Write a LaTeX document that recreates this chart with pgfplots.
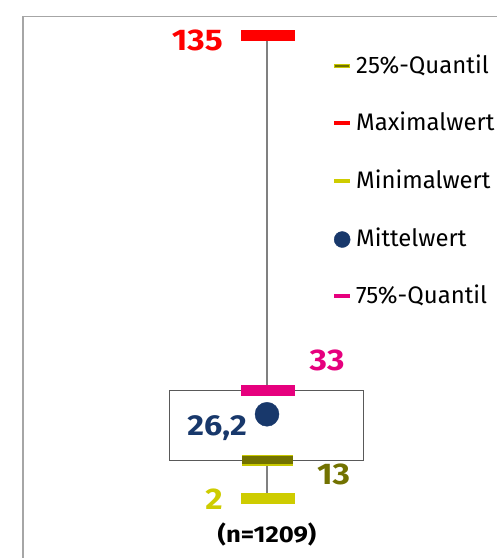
\documentclass[border=0pt]{standalone}
\usepackage{pgfplots}
\pgfplotsset{compat=1.18}
\usepackage{fontspec}
\setmainfont{Fira Sans}
\newfontfamily\numfont[FakeStretch=1.12]{Fira Sans}
\definecolor{maxred}{RGB}{255,0,0}
\definecolor{q75}{RGB}{230,0,126}
\definecolor{q25}{RGB}{114,114,0}
\definecolor{q25edge}{RGB}{200,200,0}
\definecolor{minyel}{RGB}{206,204,0}
\definecolor{meanblue}{RGB}{24,56,107}
\definecolor{framegray}{RGB}{166,166,166}
\definecolor{boxgray}{RGB}{89,89,89}
\definecolor{whiskgray}{RGB}{128,128,128}
\begin{document}
\begin{tikzpicture}
\useasboundingbox (0,0) rectangle (497bp,558bp);
\clip (0,0) rectangle (497bp,558bp);
\begin{axis}[
  at={(0,0)}, anchor=south west,
  scale only axis, width=497bp, height=558bp,
  xmin=0, xmax=497, ymin=-15.09, ymax=145.2,
  hide axis, clip=false,
  legend cell align=left,
  legend style={at={(0.6680,0.9014)}, anchor=north west, draw=none, fill=none,
    inner sep=0pt, font=\fontsize{24}{29}\selectfont,
    row sep=34.6bp,
    nodes={inner sep=0pt, text height=18bp, text depth=5bp},
    /tikz/every odd column/.style={column sep=4bp}},
]
\draw[framegray, line width=1.5bp] (axis cs:23,-40) rectangle (axis cs:600,140.47);

% whiskers
\addplot[whiskgray, line width=1.3bp, forget plot] coordinates {(267,33) (267,135)};
\addplot[whiskgray, line width=1.3bp, forget plot] coordinates {(267,2) (267,13)};
% box (25% to 75%)
\addplot[boxgray, line width=1.3bp, forget plot] coordinates {(169.5,13) (363.5,13) (363.5,33) (169.5,33)} -- cycle;
% markers
\addplot[maxred, line width=10.5bp, forget plot] coordinates {(241,135) (295,135)};
\addplot[q75, line width=10.5bp, forget plot] coordinates {(241,33) (295,33)};
\addplot[q25edge, line width=1.2bp, double=q25, double distance=8.4bp, forget plot] coordinates {(242,13) (293,13)};
\addplot[minyel, line width=10.5bp, forget plot] coordinates {(241,2) (295,2)};
\addplot[only marks, mark=*, mark size=12bp, meanblue, forget plot] coordinates {(267,26.2)};

% value labels
\node[anchor=base east, inner sep=0pt, text=maxred, font=\numfont\fontsize{30}{32}\selectfont\bfseries] at (axis cs:223,130.56) {135};
\node[anchor=base, inner sep=0pt, text=q75, font=\numfont\fontsize{30}{32}\selectfont\bfseries] at (axis cs:327,38.63) {33};
\node[anchor=base east, inner sep=0pt, text=meanblue, font=\numfont\fontsize{29}{32}\selectfont\bfseries] at (axis cs:247,20.24) {26,2};
\node[anchor=base west, inner sep=0pt, text=q25, font=\numfont\fontsize{30}{32}\selectfont\bfseries] at (axis cs:317,5.88) {13};
\node[anchor=base east, inner sep=0pt, text=minyel, font=\numfont\fontsize{30}{32}\selectfont\bfseries] at (axis cs:223,-1.30) {2};
\node[anchor=base, inner sep=0pt, text=black, font=\numfont\fontsize{23}{26}\selectfont\bfseries] at (axis cs:267,-10.5) {(n=1209)};

% legend
\addlegendimage{legend image code/.code={\draw[q25edge,line width=4bp] (0bp,1bp)--(16bp,1bp); \draw[q25,line width=2bp] (0.8bp,1bp)--(15.2bp,1bp);}}
\addlegendentry{25\%-Quantil}
\addlegendimage{legend image code/.code={\draw[maxred,line width=4bp] (0bp,1bp)--(16bp,1bp);}}
\addlegendentry{Maximalwert}
\addlegendimage{legend image code/.code={\draw[minyel,line width=4bp] (0bp,1bp)--(16bp,1bp);}}
\addlegendentry{Minimalwert}
\addlegendimage{legend image code/.code={\fill[meanblue] (8bp,0bp) circle (8bp);}}
\addlegendentry{Mittelwert}
\addlegendimage{legend image code/.code={\draw[q75,line width=4bp] (0bp,1bp)--(16bp,1bp);}}
\addlegendentry{75\%-Quantil}
\end{axis}
\end{tikzpicture}
\end{document}
